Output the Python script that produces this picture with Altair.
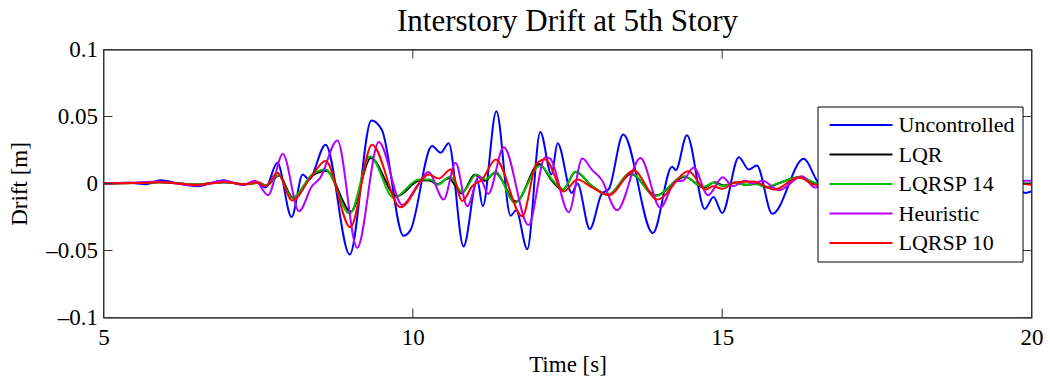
import altair as alt
import pandas as pd

FONT = "Liberation Serif"

series_names = ["Uncontrolled", "LQR", "LQRSP 14", "Heuristic", "LQRSP 10"]
series_colors = ["#0000ff", "#000000", "#00c000", "#b300ff", "#ff0000"]

unc_t = [5.0, 5.4, 5.7, 5.92, 6.2, 6.51, 6.75, 6.94, 7.1, 7.26, 7.45, 7.62, 7.81, 8.04, 8.22, 8.32, 8.59,
         8.98, 9.33, 9.50, 9.85, 9.96, 10.31, 10.45, 10.58, 10.82, 11.04, 11.13, 11.35, 11.58, 11.67, 11.85,
         12.06, 12.24, 12.34, 12.57, 12.66, 12.86, 13.05, 13.17, 13.40, 13.88, 14.19, 14.25, 14.43, 14.72,
         14.86, 15.00, 15.27, 15.43, 15.56, 15.81, 16.32, 16.52, 16.75, 17.0, 17.3, 17.6, 17.9, 18.2, 18.5,
         18.8, 19.1, 19.4, 19.7, 19.9, 20.0]
unc_v = [0.0, 0.0005, -0.0005, 0.0025, 0.0, -0.002, 0.0005, 0.0025, 0.0005, -0.001, 0.0015, -0.003, 0.0155,
         -0.025, 0.0067, 0.003, 0.029, -0.053, 0.047, 0.040, -0.039, -0.035, 0.028, 0.023, 0.030, -0.047,
         0.003, -0.017, 0.054, -0.024, -0.020, -0.049, 0.0385, 0.0067, 0.030, -0.007, 0.0, -0.034, -0.008,
         -0.004, 0.0365, -0.037, 0.0125, 0.010, 0.036, -0.019, -0.010, -0.022, 0.0196, 0.0104, 0.0134,
         -0.0226, 0.0184, 0.003, -0.012, 0.010, -0.008, 0.012, -0.006, 0.008, -0.005, 0.006, -0.004, 0.005,
         -0.003, -0.007, -0.006]

lqr_t = [5.0, 5.5, 5.9, 6.5, 6.95, 7.3, 7.5, 7.63, 7.84, 8.06, 8.38, 8.60, 9.00, 9.32, 9.74, 10.12, 10.27,
         10.40, 10.58, 10.79, 11.00, 11.16, 11.33, 11.67, 12.04, 12.25, 12.42, 12.63, 12.9, 13.16, 13.53,
         13.93, 14.40, 14.7, 14.88, 15.03, 15.2, 15.38, 15.55, 15.73, 15.9, 16.27, 16.5, 16.8, 17.2, 17.6,
         18.0, 18.5, 19.0, 19.5, 20.0]
lqr_v = [0.0, 0.0003, 0.001, -0.0008, 0.001, -0.0005, 0.0005, -0.0015, 0.006, -0.0105, 0.006, 0.0095,
         -0.021, 0.019, -0.0095, 0.0025, 0.0022, -0.0005, 0.004, -0.0075, 0.0065, 0.002, 0.008, -0.0135,
         0.0145, 0.002, -0.005, 0.0085, -0.002, -0.0085, 0.007, -0.009, 0.005, -0.003, 0.001, -0.0015,
         0.0005, -0.001, 0.0, -0.003, 0.0, 0.0045, 0.0, -0.002, 0.0015, -0.0015, 0.001, -0.001, 0.001,
         -0.0005, 0.0]

sp14_t = [5.0, 5.5, 5.9, 6.5, 6.95, 7.3, 7.5, 7.62, 7.83, 8.05, 8.37, 8.59, 8.98, 9.31, 9.69, 10.10, 10.28,
          10.40, 10.60, 10.80, 11.03, 11.17, 11.34, 11.65, 12.06, 12.25, 12.43, 12.63, 12.9, 13.15, 13.52,
          13.92, 14.38, 14.7, 14.86, 15.02, 15.2, 15.38, 15.55, 15.72, 15.9, 16.26, 16.5, 16.8, 17.2, 17.6,
          18.0, 18.5, 19.0, 19.5, 20.0]
sp14_v = [0.0, 0.0003, 0.001, -0.0008, 0.001, -0.0005, 0.0005, -0.0015, 0.0062, -0.011, 0.0067, 0.0104,
          -0.0226, 0.0204, -0.0107, 0.003, 0.003, -0.001, 0.005, -0.0065, 0.0067, 0.003, 0.0085, -0.0145,
          0.0135, 0.003, -0.0042, 0.009, -0.002, -0.0085, 0.0078, -0.0095, 0.0055, -0.0025, 0.0005, -0.002,
          0.0005, -0.001, -0.0005, -0.0025, 0.0, 0.005, 0.0005, -0.002, 0.002, -0.0015, 0.0015, -0.001,
          0.001, -0.0005, 0.0]

heu_t = [5.0, 5.4, 5.9, 6.5, 6.95, 7.26, 7.45, 7.66, 7.90, 8.16, 8.37, 8.50, 8.78, 9.10, 9.45, 9.83, 10.08,
         10.25, 10.50, 10.69, 10.88, 11.07, 11.22, 11.47, 11.87, 12.14, 12.22, 12.52, 12.74, 12.90, 13.05,
         13.30, 13.68, 14.00, 14.25, 14.36, 14.54, 14.77, 15.01, 15.17, 15.37, 15.5, 15.65, 15.92, 16.29,
         16.5, 16.8, 17.1, 17.5, 17.9, 18.3, 18.7, 19.1, 19.5, 19.9, 20.0]
heu_v = [0.0, 0.0005, 0.0015, -0.0015, 0.002, -0.001, 0.002, -0.0087, 0.022, -0.0206, -0.002, 0.004, 0.032,
         -0.048, 0.031, -0.016, -0.001, 0.0085, -0.012, 0.0155, -0.017, 0.0055, -0.0077, 0.027, -0.031,
         0.0196, 0.0185, -0.0214, 0.0186, 0.010, 0.003, -0.020, 0.019, -0.018, 0.0017, 0.002, 0.012,
         -0.0087, 0.0047, -0.002, 0.002, 0.0, 0.002, -0.005, 0.0055, -0.003, 0.004, -0.003, 0.003, -0.002,
         0.002, -0.002, 0.002, -0.001, 0.002, 0.002]

sp10_t = [5.0, 5.5, 5.9, 6.5, 6.95, 7.3, 7.5, 7.62, 7.81, 8.05, 8.37, 8.59, 8.99, 9.34, 9.80, 10.26, 10.42,
          10.61, 10.80, 10.96, 11.12, 11.34, 11.77, 12.00, 12.14, 12.44, 12.66, 12.9, 13.17, 13.57, 13.95,
          14.46, 14.73, 14.85, 15.00, 15.22, 15.5, 15.85, 16.24, 16.5, 16.8, 17.2, 17.6, 18.0, 18.5, 19.0,
          19.5, 20.0]
sp10_v = [0.0, 0.0003, 0.001, -0.001, 0.001, -0.0005, 0.001, -0.002, 0.008, -0.0127, 0.006, 0.0167,
          -0.0326, 0.029, -0.0177, 0.0067, 0.0037, 0.0104, -0.013, -0.002, 0.003, 0.018, -0.0244, 0.015,
          0.018, -0.006, 0.003, -0.003, -0.0087, 0.0097, -0.012, 0.0092, -0.0045, -0.002, -0.004, 0.001,
          0.0015, -0.0045, 0.0047, -0.001, 0.002, -0.002, 0.002, -0.0015, 0.0015, -0.001, 0.001, -0.001]

x_ticks = [5, 10, 15, 20]
y_ticks = [-0.1, -0.05, 0, 0.05, 0.1]

rows = []
for name, ts, vs in zip(series_names,
                        [unc_t, lqr_t, sp14_t, heu_t, sp10_t],
                        [unc_v, lqr_v, sp14_v, heu_v, sp10_v]):
    for t, v in zip(ts, vs):
        rows.append({"series": name, "time": t, "drift": v})
df = pd.DataFrame(rows)

W, H = 928, 268
TICK = 9

xscale = alt.Scale(domain=[5, 20], nice=False, zero=False)
yscale = alt.Scale(domain=[-0.1, 0.1], nice=False, zero=False)
cscale = alt.Scale(domain=series_names, range=series_colors)

x_axis = alt.Axis(values=x_ticks, title="Time [s]", ticks=False, domain=False, grid=False,
                  labelFont=FONT, labelFontSize=23, labelColor="black", labelPadding=9,
                  labelFlush=False, labelOverlap=False, format="d",
                  titleFont=FONT, titleFontSize=23, titleFontWeight="normal", titleColor="black",
                  titleX=W / 2, titleY=54, titleAlign="center", titleBaseline="alphabetic")
y_axis = alt.Axis(values=y_ticks, title="Drift [m]", ticks=False, domain=False, grid=False,
                  labelFont=FONT, labelFontSize=23, labelColor="black", labelPadding=6,
                  labelFlush=False, labelOverlap=False, format=".2~f",
                  labelExpr="replace(replace(datum.label, '-', '\u2212'), '\u2212', '\u2013')",
                  titleFont=FONT, titleFontSize=23, titleFontWeight="normal", titleColor="black",
                  titleX=-84, titleY=H / 2, titleAlign="center", titleBaseline="middle", titleAngle=-90)

legend = alt.Legend(title=None, orient="none", legendX=714, legendY=57,
                    fillColor="white", strokeColor="black", padding=7,
                    symbolType="M-3,0H3", symbolSize=441, symbolStrokeWidth=2,
                    symbolOffset=25, labelOffset=26,
                    labelFont=FONT, labelFontSize=22, labelColor="black",
                    rowPadding=6.5, labelLimit=400)

color = alt.Color("series:N", scale=cscale, legend=legend)

layers = []
for name in series_names:
    layers.append(
        alt.Chart(df).transform_filter(alt.datum.series == name)
        .mark_line(interpolate="monotone", strokeWidth=2, clip=True)
        .encode(x=alt.X("time:Q", scale=xscale, axis=x_axis),
                y=alt.Y("drift:Q", scale=yscale, axis=y_axis),
                color=color)
    )

ytick_df = pd.DataFrame({"drift": y_ticks})
xtick_df = pd.DataFrame({"time": x_ticks})
layers.append(alt.Chart(ytick_df).mark_rule(color="#333333", strokeWidth=1).encode(
    y=alt.Y("drift:Q", scale=yscale, axis=y_axis), x=alt.value(0), x2=alt.value(TICK)))
layers.append(alt.Chart(ytick_df).mark_rule(color="#333333", strokeWidth=1).encode(
    y=alt.Y("drift:Q", scale=yscale, axis=y_axis), x=alt.value(W - TICK), x2=alt.value(W)))
layers.append(alt.Chart(xtick_df).mark_rule(color="#333333", strokeWidth=1).encode(
    x=alt.X("time:Q", scale=xscale, axis=x_axis), y=alt.value(H), y2=alt.value(H - TICK)))
layers.append(alt.Chart(xtick_df).mark_rule(color="#333333", strokeWidth=1).encode(
    x=alt.X("time:Q", scale=xscale, axis=x_axis), y=alt.value(0), y2=alt.value(TICK)))

chart = alt.layer(*layers).properties(
    width=W, height=H,
    background="white",
    title=alt.Title("Interstory Drift at 5th Story", font=FONT, fontSize=31, fontWeight="normal",
                    color="black", anchor="middle", offset=1),
    autosize=alt.AutoSizeParams(type="none"),
    padding={"left": 103.5, "top": 49.5, "right": 18.5, "bottom": 63.5},
).configure_view(stroke="#000000", strokeWidth=1.2)

chart.save("out.html", embed_options={"renderer": "svg", "actions": False})
